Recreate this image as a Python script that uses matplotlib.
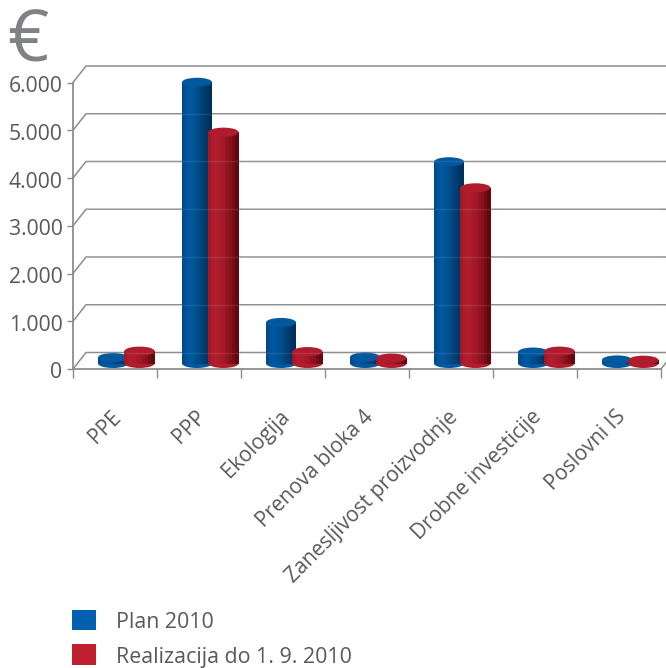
import matplotlib
matplotlib.use("Agg")
import matplotlib.pyplot as plt
from matplotlib.patches import Ellipse, Patch
from matplotlib.transforms import ScaledTranslation
import numpy as np

plt.rcParams['font.family'] = ['Open Sans', 'DejaVu Sans']

categories = ['PPE', 'PPP', 'Ekologija', 'Prenova bloka 4', 'Zanesljivost proizvodnje',
              'Drobne investicije', 'Poslovni IS']
plan = [125, 5890, 860, 135, 4225, 240, 75]
realizacija = [260, 4845, 250, 115, 3680, 260, 70]
y_ticks = [0, 1000, 2000, 3000, 4000, 5000, 6000]
y_labels = ['0', '1.000', '2.000', '3.000', '4.000', '5.000', '6.000']
series_names = ['Plan 2010', 'Realizacija do 1. 9. 2010']

W, H = 666, 668
GRAY = '#8c8d8f'
TEXT = '#58595b'

# front plane of the fake 3d box, in pixels
left, right, y0, y6000 = 73, 661, 369, 82.5
px_x = (right - left) / 7.0
px_y = (y0 - y6000) / 6000.0

fig = plt.figure(figsize=(W / 100, H / 100), dpi=100)
ax = fig.add_axes([left / W, 1 - y0 / H, (right - left) / W, (y0 - y6000) / H])
ax.set_xlim(0, 7)
ax.set_ylim(0, 6000)
for s in ['top', 'right']:
    ax.spines[s].set_visible(False)
for s in ['left', 'bottom']:
    ax.spines[s].set_color(GRAY)
    ax.spines[s].set_linewidth(1.3)
ax.patch.set_alpha(0)

ax.set_yticks(y_ticks)
ax.set_yticklabels(y_labels, fontsize=15.2, color=TEXT)
ax.tick_params(axis='y', length=4.5, width=1, color=GRAY, pad=3)
down = ScaledTranslation(0, -1.5 / 100, fig.dpi_scale_trans)
for lab in ax.get_yticklabels():
    lab.set_transform(lab.get_transform() + down)

ax.set_xticks(range(8))
ax.set_xticklabels([])
ax.tick_params(axis='x', length=6.5, width=1, color=GRAY)
ax.set_xticks(np.arange(7) + 0.5, minor=True)
ax.set_xticklabels(categories, minor=True, rotation=45, ha='right', va='top',
                   rotation_mode='anchor', fontsize=15, color=TEXT)
ax.tick_params(axis='x', which='minor', length=0, pad=27)
shift = ScaledTranslation(-4 / 100, 0, fig.dpi_scale_trans)
for lab in ax.get_xticklabels(minor=True):
    lab.set_transform(lab.get_transform() + shift)

# back wall lines
dx = 13 / px_x
dy = 16.5 / px_y
for v in y_ticks:
    ax.plot([0, dx, 7 + dx], [v, v + dy, v + dy], color=GRAY, lw=1.1, clip_on=False, zorder=1)
ax.plot([7, 7 + dx], [0, dy], color=GRAY, lw=1.1, clip_on=False, zorder=1)

bar_w = 30 / px_x
ell_h = 9 / px_y
base = 5.5 / px_y

blue_strips = ['#004a8c', '#00529a', '#0058a0', '#005499', '#005090', '#004a86', '#00437a', '#003c70', '#003464', '#002e58']
red_strips = ['#a01828', '#ac1c2c', '#b01e2e', '#ae1c2c', '#a61a28', '#9e1826', '#921422', '#86101c', '#760c14', '#64070e']


def cylinder(x_left, value, strips, top_color, z):
    n = len(strips)
    sw = bar_w / n
    mid = x_left + bar_w / 2
    ax.add_patch(Ellipse((mid, base), bar_w, ell_h, color=strips[2], lw=0, zorder=z, clip_on=False))
    for i, col in enumerate(strips):
        ax.bar(x_left + sw * (i + 0.5), value, sw * 1.05, bottom=base, color=col, lw=0, zorder=z, clip_on=False)
    ax.add_patch(Ellipse((mid, base + value), bar_w, ell_h, color=top_color, lw=0, zorder=z + 0.1, clip_on=False))


for i in range(len(categories)):
    x_left = i + (25 / px_x)
    cylinder(x_left, plan[i], blue_strips, '#00589f', 3 + i * 0.01)
    cylinder(x_left + 26.5 / px_x, realizacija[i], red_strips, '#b01c2e', 4 + i * 0.01)

# wall lines show faintly through the cylinders
for v in y_ticks:
    ax.plot([dx, 7 + dx], [v + dy, v + dy], color='#ffffff', lw=1, alpha=0.10, zorder=6)

fig.text(7 / W, 1 - 62 / H, '€', fontsize=52, color='#808285', va='baseline', ha='left')

handles = [Patch(color='#0060ad', lw=0), Patch(color='#c01f30', lw=0)]
leg = ax.legend(handles, series_names, loc='lower left', frameon=False, fontsize=15.4,
                labelcolor=TEXT, handlelength=1.1, handleheight=1.1, handletextpad=0.95,
                labelspacing=0.58, borderpad=0, borderaxespad=0,
                bbox_to_anchor=(72 / W, 1 - 667 / H), bbox_transform=fig.transFigure)
for t in leg.get_texts():
    t.set_y(-1)

fig.savefig('out.png', dpi=100)
